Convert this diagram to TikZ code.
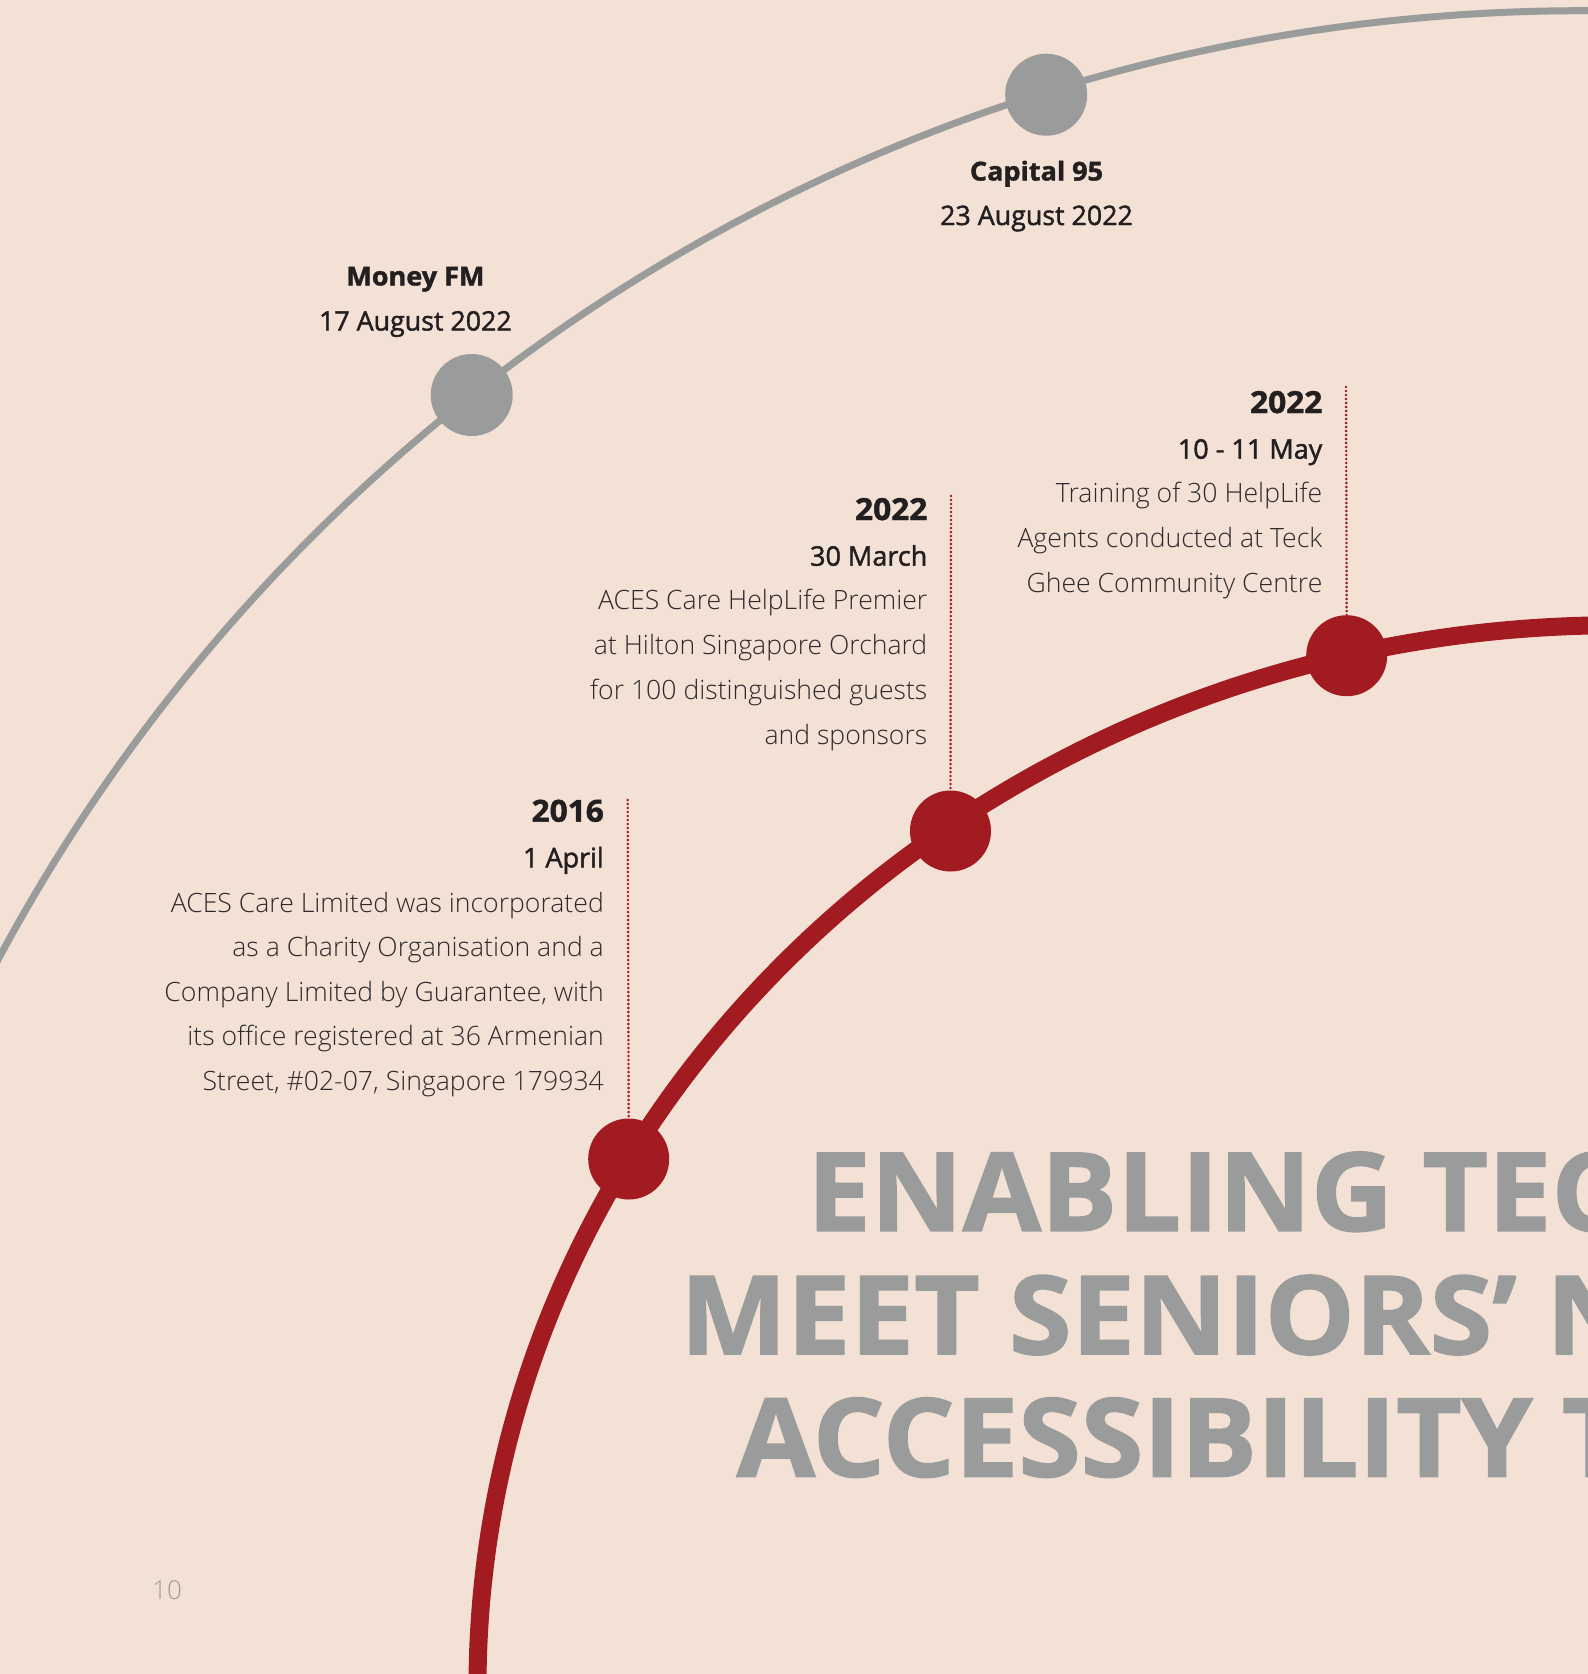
\documentclass[tikz,border=0pt]{standalone}
\usepackage{fontspec}
\setmainfont{Open Sans}
\IfFontExistsTF{Open Sans Light}
  {\newfontfamily\oslight{Open Sans Light}}
  {\newfontfamily\oslight{Open Sans}}
\IfFontExistsTF{Open Sans SemiBold}
  {\newfontfamily\ossemi{Open Sans SemiBold}}
  {\newfontfamily\ossemi{Open Sans}[FakeBold=1.6]}
\IfFontExistsTF{Open Sans ExtraBold}
  {\newfontfamily\osxbold{Open Sans ExtraBold}[FakeStretch=1.04]}
  {\newfontfamily\osxbold{Open Sans Bold}[FakeBold=1.5, FakeStretch=1.04]}
\definecolor{paper}{HTML}{F3E1D6}
\definecolor{arcgray}{HTML}{9A9C9B}
\definecolor{accent}{HTML}{A11B20}
\definecolor{ink}{HTML}{231F20}
\definecolor{bodyink}{HTML}{2E2A2B}
\definecolor{pagegray}{HTML}{9E9FA0}
\tikzset{
  outerarc/.style={draw=arcgray, line width=7pt},
  innerarc/.style={draw=accent, line width=18pt},
  graydot/.style={circle, fill=arcgray, minimum size=82pt, inner sep=0pt},
  reddot/.style={circle, fill=accent, minimum size=81pt, inner sep=0pt},
  leader/.style={draw=accent, line width=2.9pt, line cap=round, dash pattern=on 0pt off 4pt},
  yearlbl/.style={anchor=base east, inner sep=0pt, text=ink, font=\fontsize{30.4}{36}\osxbold\selectfont},
  datelbl/.style={anchor=base east, inner sep=0pt, text=ink, font=\fontsize{27}{36}\ossemi\selectfont},
  bodylbl/.style={anchor=base east, inner sep=0pt, text=bodyink, font=\fontsize{26.6}{36}\oslight\selectfont},
  medianame/.style={anchor=base, inner sep=0pt, text=ink, font=\fontsize{26}{32}\osxbold\selectfont},
  mediadate/.style={anchor=base, inner sep=0pt, text=ink, font=\fontsize{26.8}{32}\ossemi\selectfont},
  headline/.style={anchor=base west, inner sep=0pt, text=arcgray, font=\fontsize{109}{120}\osxbold\selectfont},
}
\begin{document}
\begin{tikzpicture}[x=1pt, y=-1pt]
  \useasboundingbox (0,0) rectangle (1588,1674);
  \fill[paper] (0,0) rectangle (1588,1674);
  \clip (0,0) rectangle (1588,1674);

  % the two timeline arcs
  \draw[outerarc] (1581.8,1806.1) circle [radius=1795.4pt];
  \draw[innerarc] (1617.8,1687.6) ellipse [x radius=1140.3pt, y radius=1062.4pt];

  % media milestones on the outer arc
  \node[graydot] (money) at (471.7,395) {};
  \node[graydot] (capital) at (1046.2,94.7) {};
  \node[medianame] (moneyname) at (415.4,285.5) {Money FM};
  \node[mediadate] (moneydate) at (415.4,330.5) {17 August 2022};
  \node[medianame] (capname) at (1036.5,180.5) {Capital 95};
  \node[mediadate] (capdate) at (1036.5,225) {23 August 2022};

  % milestones on the inner arc
  \node[reddot] (m16) at (628.7,1159) {};
  \node[reddot] (mmar) at (950.5,831) {};
  \node[reddot] (mmay) at (1346.7,655.7) {};

  \coordinate (l16) at (627.7,800);
  \coordinate (lmar) at (951,496);
  \coordinate (lmay) at (1346,387);
  \draw[leader] (l16) -- (m16.north);
  \draw[leader] (lmar) -- (mmar.north);
  \draw[leader] (lmay) -- (mmay.north);

  % 2016 entry
  \node[yearlbl] (y16) at (604,821.7) {2016};
  \node[datelbl] (d16) at (604,867.3) {1 April};
  \foreach \t [count=\i from 0] in {ACES Care Limited was incorporated,
      as a Charity Organisation and a,
      {Company Limited by Guarantee, with},
      its office registered at 36 Armenian,
      {Street, \#02-07, Singapore 179934}}
    \node[bodylbl] (b16-\i) at (604,912.3+44.5*\i) {\t};

  % March 2022 entry
  \node[yearlbl] (ymar) at (927.5,520) {2022};
  \node[datelbl] (dmar) at (927.5,565.7) {30 March};
  \foreach \t [count=\i from 0] in {ACES Care HelpLife Premier,
      at Hilton Singapore Orchard,
      for 100 distinguished guests,
      and sponsors}
    \node[bodylbl] (bmar-\i) at (927.5,609+45*\i) {\t};

  % May 2022 entry
  \node[yearlbl] (ymay) at (1322.5,413) {2022};
  \node[datelbl] (dmay) at (1322.5,458.7) {10 - 11 May};
  \foreach \t [count=\i from 0] in {Training of 30 HelpLife,
      Agents conducted at Teck,
      Ghee Community Centre}
    \node[bodylbl] (bmay-\i) at (1322.5,502+45*\i) {\t};

  % headline
  \node[headline] (h1) at (807,1230.7) {ENABLING TEC};
  \node[headline] (h2) at (680,1354) {MEET SENIORS’ N};
  \node[headline] (h3) at (736.6,1476.5) {ACCESSIBILITY T};

  % page number
  \node[anchor=base west, inner sep=0pt, text=pagegray, font=\fontsize{26}{30}\oslight\selectfont] (page) at (152,1599.3) {10};
\end{tikzpicture}
\end{document}
